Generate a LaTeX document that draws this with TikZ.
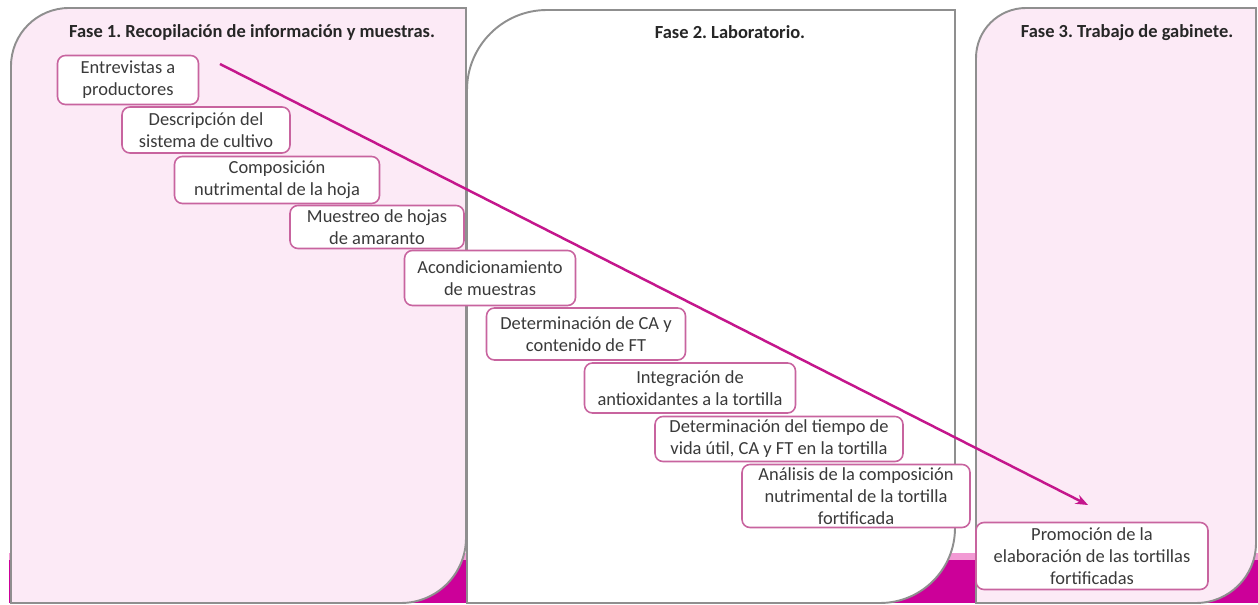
\documentclass[tikz,border=0pt]{standalone}
\usepackage{fontspec}
\setmainfont{Carlito}
\usetikzlibrary{arrows.meta}
\definecolor{rosaclaro}{HTML}{FCEAF6}
\definecolor{fucsia}{HTML}{CC0099}
\definecolor{fucsiaclaro}{HTML}{F29AD4}
\definecolor{rosaborde}{HTML}{C8649F}
\definecolor{grisborde}{HTML}{8F8F8F}
\definecolor{flechacol}{HTML}{C4168C}
\definecolor{textogris}{HTML}{3A3A3A}
\frenchspacing
\tikzset{
  panel/.style={draw=grisborde, line width=1.1pt},
  titulo/.style={font=\fontsize{10.5}{12.5}\selectfont\bfseries, text=black!85},
  paso/.style={draw=rosaborde, line width=0.9pt, fill=white, rounded corners=4.5pt,
    align=center, inner sep=1pt, text=textogris, font=\fontsize{10.5}{12.6}\selectfont},
  flecha/.style={draw=flechacol, line width=1.4pt, -{Stealth[length=7pt,width=5.5pt]}}
}
\begin{document}
\begin{tikzpicture}[x=0.02cm,y=0.02cm]
  \useasboundingbox (0,0) rectangle (1258,605);

  % franja inferior
  \fill[fucsia] (9,2) rectangle (1258,52);
  \fill[fucsiaclaro] (9,45) rectangle (1258,52);

  % fases
  \filldraw[panel, fill=rosaclaro] (11,2) -- (11,539) arc[start angle=180, end angle=90, radius=58]
    -- (466,597) -- (466,67) arc[start angle=0, end angle=-90, radius=65] -- cycle;
  \filldraw[panel, fill=white] (467,2) -- (467,515) arc[start angle=180, end angle=90, radius=80]
    -- (955,595) -- (955,77) arc[start angle=0, end angle=-90, radius=75] -- cycle;
  \filldraw[panel, fill=rosaclaro] (976,2) -- (976,547) arc[start angle=180, end angle=90, radius=50]
    -- (1256,597) -- (1256,62) arc[start angle=0, end angle=-90, radius=60] -- cycle;

  \node[titulo] (t1) at (252,573) {Fase 1. Recopilación de información y muestras.};
  \node[titulo] (t2) at (730,573) {Fase 2. Laboratorio.};
  \node[titulo] (t3) at (1127,572) {Fase 3. Trabajo de gabinete.};

  % pasos
  \node[paso, minimum width=2.82cm, minimum height=0.98cm] (entrevistas) at (128,525) {Entrevistas a\\productores};
  \node[paso, minimum width=3.36cm, minimum height=0.92cm] (descripcion) at (206,475) {Descripción del\\sistema de cultivo};
  \node[paso, minimum width=4.10cm, minimum height=0.94cm] (composicion) at (277,425) {Composición\\nutrimental de la hoja};
  \node[paso, minimum width=3.48cm, minimum height=0.86cm] (muestreo) at (377,378) {Muestreo de hojas\\de amaranto};
  \node[paso, minimum width=3.42cm, minimum height=1.10cm] (acond) at (490,327) {Acondicionamiento\\de muestras};
  \node[paso, minimum width=3.98cm, minimum height=1.04cm] (detca) at (586,271) {Determinación de CA y\\contenido de FT};
  \node[paso, minimum width=4.22cm, minimum height=1.00cm] (integracion) at (690,217) {Integración de\\antioxidantes a la tortilla};
  \node[paso, minimum width=4.96cm, minimum height=0.90cm] (vidautil) at (779,166) {Determinación del tiempo de\\vida útil, CA y FT en la tortilla};
  \node[paso, minimum width=4.56cm, minimum height=1.26cm] (analisis) at (856,109) {Análisis de la composición\\nutrimental de la tortilla\\fortificada};
  \node[paso, minimum width=4.64cm, minimum height=1.34cm] (promocion) at (1092,49) {Promoción de la\\elaboración de las tortillas\\fortificadas};

  % flecha general
  \coordinate (inicio) at (220,541);
  \coordinate (fin) at (1088,100);
  \draw[flecha] (inicio) -- (fin);
\end{tikzpicture}
\end{document}
